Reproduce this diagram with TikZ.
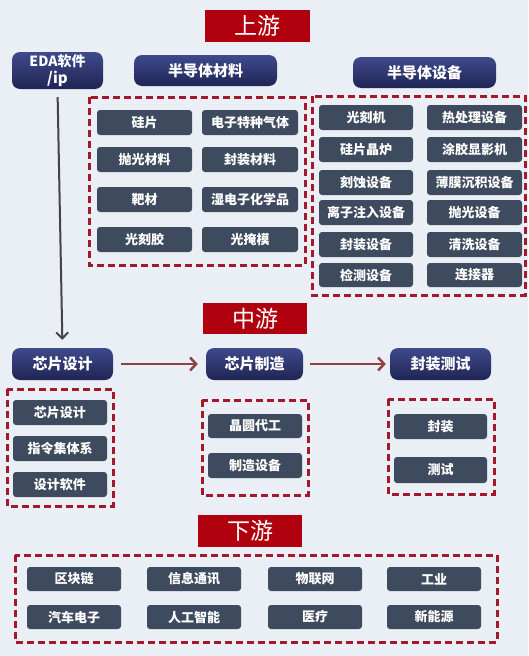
\documentclass[tikz,border=0pt]{standalone}
\usepackage{fontspec}
\setmainfont{Noto Sans CJK SC}
\usetikzlibrary{arrows.meta}
\definecolor{bgc}{HTML}{E9EFF5}
\definecolor{navyT}{HTML}{3F4A8C}
\definecolor{navyB}{HTML}{1F2553}
\definecolor{slate}{HTML}{3E4A5D}
\definecolor{redlab}{HTML}{B1000E}
\definecolor{dashred}{HTML}{A3192B}
\definecolor{arrowred}{HTML}{8E4343}
\definecolor{arrowgray}{HTML}{444444}
\tikzset{
  itembox/.style={fill=slate, rounded corners=3pt, text=white, font=\bfseries\fontsize{13}{15}\selectfont, inner sep=0pt},
  headbox/.style={top color=navyT, bottom color=navyB, rounded corners=8pt, text=white, font=\bfseries\fontsize{15}{17}\selectfont, inner sep=0pt, align=center},
  labbox/.style={fill=redlab, text=white, font=\fontsize{23}{25}\selectfont, inner sep=0pt},
  dashbox/.style={draw=dashred, line width=3pt, dash pattern=on 7pt off 4pt},
  flowarrow/.style={draw=arrowred, line width=2.5pt, -{Straight Barb[length=6pt,width=13pt,line width=2.5pt]}},
  edaarrow/.style={draw=arrowgray, line width=2pt, -{Straight Barb[length=6pt,width=12pt,line width=2pt]}}
}
% #1 style, #2 name, #3 x1, #4 y1, #5 x2, #6 y2, #7 text
\newcommand\bx[7]{\node[#1, minimum width={(#5)-(#3)}, minimum height={(#6)-(#4)}] (#2) at ({((#3)+(#5))/2},{((#4)+(#6))/2}) {#7};}
\begin{document}
\begin{tikzpicture}[x=1pt,y=-1pt]
\fill[bgc] (0,0) rectangle (528,656);
\useasboundingbox (0,0) rectangle (528,656);

% labels
\bx{labbox}{up}{205}{10}{310}{42}{上游}
\bx{labbox}{mid}{203}{303}{307}{334}{中游}
\bx{labbox}{down}{198}{515}{302}{547}{下游}

% upstream headers
\bx{headbox}{eda}{12}{52}{103}{89}{\fontsize{14}{17}\selectfont EDA软件\\/ip}
\bx{headbox}{mat}{134}{55}{277}{86}{半导体材料}
\bx{headbox}{equ}{353}{57}{496}{88}{半导体设备}

% materials
\draw[dashbox] (89,97) rectangle (305,265);
\bx{itembox}{m1}{97}{110}{192}{135}{硅片}
\bx{itembox}{m2}{202}{110}{298}{135}{电子特种气体}
\bx{itembox}{m3}{97}{147}{192}{172}{抛光材料}
\bx{itembox}{m4}{202}{147}{298}{172}{封装材料}
\bx{itembox}{m5}{97}{187}{192}{212}{靶材}
\bx{itembox}{m6}{202}{187}{298}{212}{湿电子化学品}
\bx{itembox}{m7}{97}{227}{192}{252}{光刻胶}
\bx{itembox}{m8}{202}{227}{298}{252}{光掩模}

% equipment
\draw[dashbox] (312,96) rectangle (525,295);
\bx{itembox}{e1}{319}{105}{413}{130}{光刻机}
\bx{itembox}{e2}{427}{105}{522}{130}{热处理设备}
\bx{itembox}{e3}{319}{137}{413}{162}{硅片晶炉}
\bx{itembox}{e4}{427}{137}{522}{162}{涂胶显影机}
\bx{itembox}{e5}{319}{170}{413}{195}{刻蚀设备}
\bx{itembox}{e6}{427}{170}{522}{195}{薄膜沉积设备}
\bx{itembox}{e7}{319}{200}{413}{225}{离子注入设备}
\bx{itembox}{e8}{427}{200}{522}{225}{抛光设备}
\bx{itembox}{e9}{319}{232}{413}{257}{封装设备}
\bx{itembox}{e10}{427}{232}{522}{257}{清洗设备}
\bx{itembox}{e11}{319}{263}{413}{287}{检测设备}
\bx{itembox}{e12}{427}{263}{522}{287}{连接器}

% midstream headers
\bx{headbox}{design}{12}{348}{113}{380}{芯片设计}
\bx{headbox}{mfg}{206}{348}{303}{380}{芯片制造}
\bx{headbox}{pack}{390}{348}{491}{380}{封装测试}

\draw[edaarrow, shorten <=8pt, shorten >=8pt] (eda.south) -- (design.north);
\draw[flowarrow, shorten <=8pt, shorten >=8pt] (design.east) -- (mfg.west);
\draw[flowarrow, shorten <=7pt, shorten >=4pt] (mfg.east) -- (pack.west);

\draw[dashbox] (7,389) rectangle (113,506);
\bx{itembox}{d1}{13}{400}{107}{425}{芯片设计}
\bx{itembox}{d2}{13}{436}{107}{461}{指令集体系}
\bx{itembox}{d3}{13}{472}{107}{497}{设计软件}

\draw[dashbox] (202,400) rectangle (308,495);
\bx{itembox}{f1}{208}{414}{302}{438}{晶圆代工}
\bx{itembox}{f2}{208}{453}{302}{478}{制造设备}

\draw[dashbox] (388,399) rectangle (494,494);
\bx{itembox}{p1}{394}{414}{487}{439}{封装}
\bx{itembox}{p2}{394}{457}{487}{483}{测试}

% downstream
\draw[dashbox] (15,555) rectangle (497,642);
\bx{itembox}{a1}{27}{567}{121}{591}{区块链}
\bx{itembox}{a2}{147}{567}{241}{591}{信息通讯}
\bx{itembox}{a3}{268}{567}{362}{591}{物联网}
\bx{itembox}{a4}{387}{567}{481}{591}{工业}
\bx{itembox}{a5}{27}{605}{121}{629}{汽车电子}
\bx{itembox}{a6}{147}{605}{241}{629}{人工智能}
\bx{itembox}{a7}{268}{605}{362}{629}{医疗}
\bx{itembox}{a8}{387}{605}{481}{629}{新能源}
\end{tikzpicture}
\end{document}
